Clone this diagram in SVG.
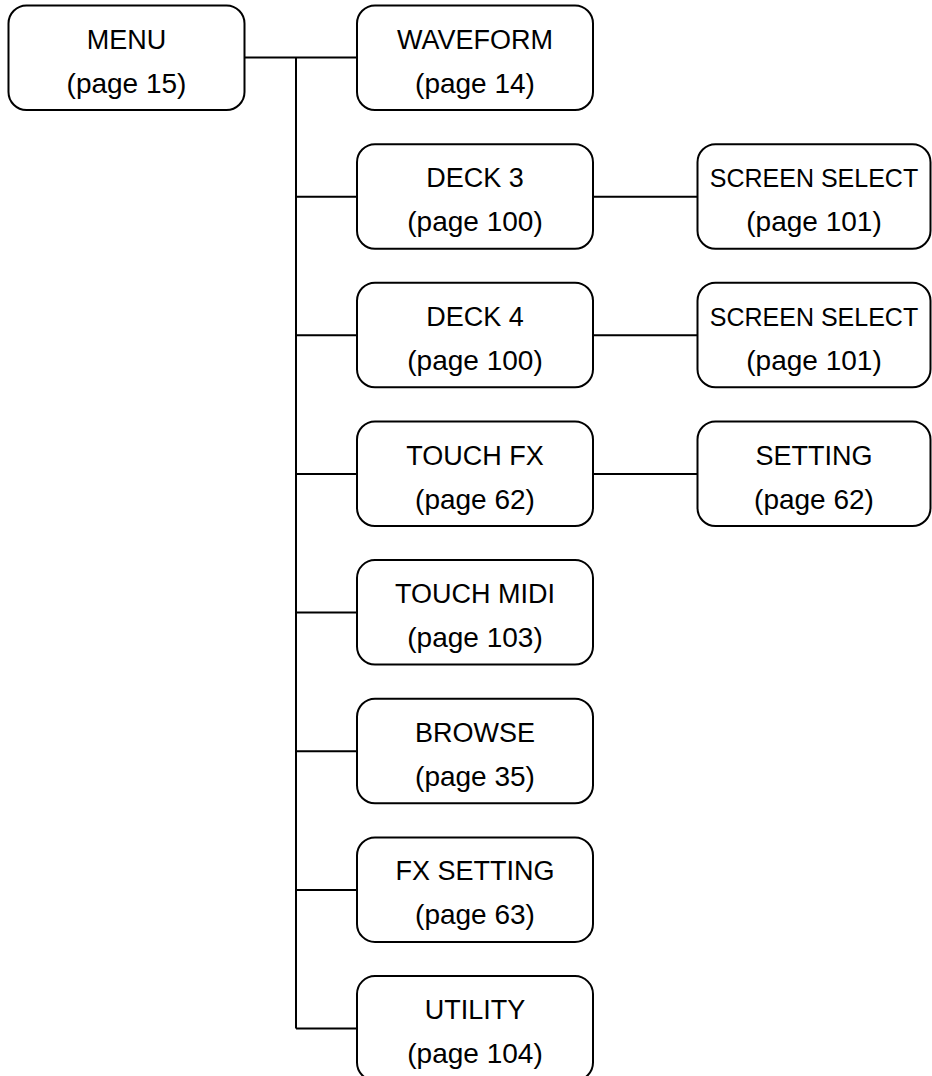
<svg xmlns="http://www.w3.org/2000/svg" width="932" height="1076" viewBox="0 0 932 1076">
<style>
.box{fill:#fff;stroke:#000;stroke-width:2}
.t{font-family:"Liberation Sans",Arial,sans-serif;font-size:27px;fill:#000;text-anchor:middle}
.p{font-size:28px}
.s{font-size:25px}
.c{fill:none;stroke:#000;stroke-width:2}
</style>
<rect width="932" height="1076" fill="#fff"/>
<g id="connectors" class="c">
<path d="M245 57.5H357"/>
<path d="M296 57.5V1028.6"/>
<path d="M296 196.7H357M296 335.3H357M296 474H357M296 612.6H357M296 751.3H357M296 889.9H357M296 1028.6H357"/>
<path d="M593 196.7H697.5M593 335.3H697.5M593 474H697.5"/>
</g>
<g id="menu"><rect class="box" x="8.5" y="5.5" width="236" height="104.5" rx="18"/><text class="t" x="126.5" y="48.5">MENU</text><text class="t p" x="126.5" y="92.5">(page 15)</text></g>
<g id="waveform"><rect class="box" x="357" y="5.5" width="236" height="104.5" rx="18"/><text class="t" x="475" y="48.5">WAVEFORM</text><text class="t p" x="475" y="92.5">(page 14)</text></g>
<g id="deck3"><rect class="box" x="357" y="144.2" width="236" height="104.5" rx="18"/><text class="t" x="475" y="187.2">DECK 3</text><text class="t p" x="475" y="231.2">(page 100)</text></g>
<g id="deck4"><rect class="box" x="357" y="282.8" width="236" height="104.5" rx="18"/><text class="t" x="475" y="325.8">DECK 4</text><text class="t p" x="475" y="369.8">(page 100)</text></g>
<g id="touchfx"><rect class="box" x="357" y="421.5" width="236" height="104.5" rx="18"/><text class="t" x="475" y="464.5">TOUCH FX</text><text class="t p" x="475" y="508.5">(page 62)</text></g>
<g id="touchmidi"><rect class="box" x="357" y="560.1" width="236" height="104.5" rx="18"/><text class="t" x="475" y="603.1">TOUCH MIDI</text><text class="t p" x="475" y="647.1">(page 103)</text></g>
<g id="browse"><rect class="box" x="357" y="698.8" width="236" height="104.5" rx="18"/><text class="t" x="475" y="741.8">BROWSE</text><text class="t p" x="475" y="785.8">(page 35)</text></g>
<g id="fxsetting"><rect class="box" x="357" y="837.4" width="236" height="104.5" rx="18"/><text class="t" x="475" y="880.4">FX SETTING</text><text class="t p" x="475" y="924.4">(page 63)</text></g>
<g id="utility"><rect class="box" x="357" y="976.1" width="236" height="104.5" rx="18"/><text class="t" x="475" y="1019.1">UTILITY</text><text class="t p" x="475" y="1063.1">(page 104)</text></g>
<g id="screenselect3"><rect class="box" x="697.5" y="144.2" width="233" height="104.5" rx="18"/><text class="t s" x="814" y="187.2">SCREEN SELECT</text><text class="t p" x="814" y="231.2">(page 101)</text></g>
<g id="screenselect4"><rect class="box" x="697.5" y="282.8" width="233" height="104.5" rx="18"/><text class="t s" x="814" y="325.8">SCREEN SELECT</text><text class="t p" x="814" y="369.8">(page 101)</text></g>
<g id="setting"><rect class="box" x="697.5" y="421.5" width="233" height="104.5" rx="18"/><text class="t" x="814" y="464.5">SETTING</text><text class="t p" x="814" y="508.5">(page 62)</text></g>
</svg>
